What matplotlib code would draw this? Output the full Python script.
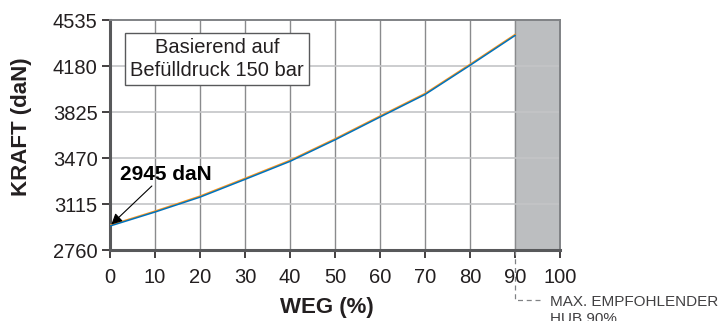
import matplotlib
matplotlib.use('Agg')
import matplotlib.pyplot as plt

plt.rcParams['font.family'] = ['Liberation Sans', 'DejaVu Sans']

# data
weg = [0, 10, 20, 30, 40, 50, 60, 70, 80, 90]
kraft_blue = [2945, 3053, 3168, 3305, 3444, 3610, 3786, 3960, 4185, 4415]
kraft_orange = [2952, 3060, 3176, 3313, 3452, 3618, 3794, 3968, 4193, 4423]
y_ticks = [2760, 3115, 3470, 3825, 4180, 4535]
x_ticks = [0, 10, 20, 30, 40, 50, 60, 70, 80, 90, 100]
max_hub = 90

SHADE = '#bcbec0'

fig = plt.figure(figsize=(7.2, 3.21), dpi=100, facecolor='white')
ax = fig.add_axes([110 / 720, 1 - 250 / 321, 450 / 720, 230 / 321])

ax.axvspan(max_hub, 100, color=SHADE, zorder=0)
for x in x_ticks[1:-1]:
    ax.axvline(x, color='#8a8b8d', linewidth=1.0, zorder=1)
for y in y_ticks[1:-1]:
    ax.axhline(y, color='#c4c5c7', linewidth=1.2, zorder=1)

ax.plot(weg, kraft_orange, color='#f7941d', linewidth=1.1, zorder=3)
ax.plot(weg, kraft_blue, color='#0072bc', linewidth=1.1, zorder=4)

ax.set_xlim(0, 100)
ax.set_ylim(y_ticks[0], y_ticks[-1])
ax.set_xticks(x_ticks)
ax.set_yticks(y_ticks)
ax.tick_params(direction='out', length=6, width=1.2, color='#231f20',
               labelsize=14.5, labelcolor='#231f20', pad=3)
ax.tick_params(axis='x', pad=7)
for s in ax.spines.values():
    s.set_color('#808285')
    s.set_linewidth(1.4)
for side in ('left', 'bottom'):
    ax.spines[side].set_linewidth(2.2)
    ax.spines[side].set_color('#58595b')

ax.set_xlabel('WEG (%)', fontsize=16, fontweight='bold', color='#231f20')
ax.set_ylabel('KRAFT (daN)', fontsize=16, fontweight='bold', color='#231f20')
ax.xaxis.set_label_coords(0.483, -0.248)
ax.yaxis.set_label_coords(-0.196, 0.535)
ax.xaxis.label.set_va('center')
ax.yaxis.label.set_va('center')

ax.text(0.238, 0.83, 'Basierend auf\nBefülldruck 150 bar', transform=ax.transAxes,
        ha='center', va='center', fontsize=14.5, linespacing=1.25, color='#231f20',
        bbox=dict(boxstyle='square,pad=0.25', facecolor='white',
                  edgecolor='#58595b', linewidth=1.0), zorder=5)

ax.annotate('', xy=(0.3, kraft_blue[0] + 12), xytext=(9.3, 3254),
            arrowprops=dict(arrowstyle='-|>', color='black', linewidth=0.8,
                            mutation_scale=16, shrinkA=0, shrinkB=0),
            zorder=6)
ax.text(2.2, 3300, '2945 daN', fontsize=15, fontweight='bold', ha='left',
        va='baseline', color='black', zorder=6)

# recommended max stroke marker below the axis
ax.plot([max_hub, max_hub, 95.5], [2760, 2374, 2374], color='#808285',
        linewidth=0.9, linestyle=(0, (4, 3)), clip_on=False)
ax.text(97.8, 2413, 'MAX. EMPFOHLENDER\nHUB 90%', fontsize=11, color='#414042',
        ha='left', va='top', clip_on=False, linespacing=1.3)

fig.savefig('out.png', dpi=100, facecolor='white')
